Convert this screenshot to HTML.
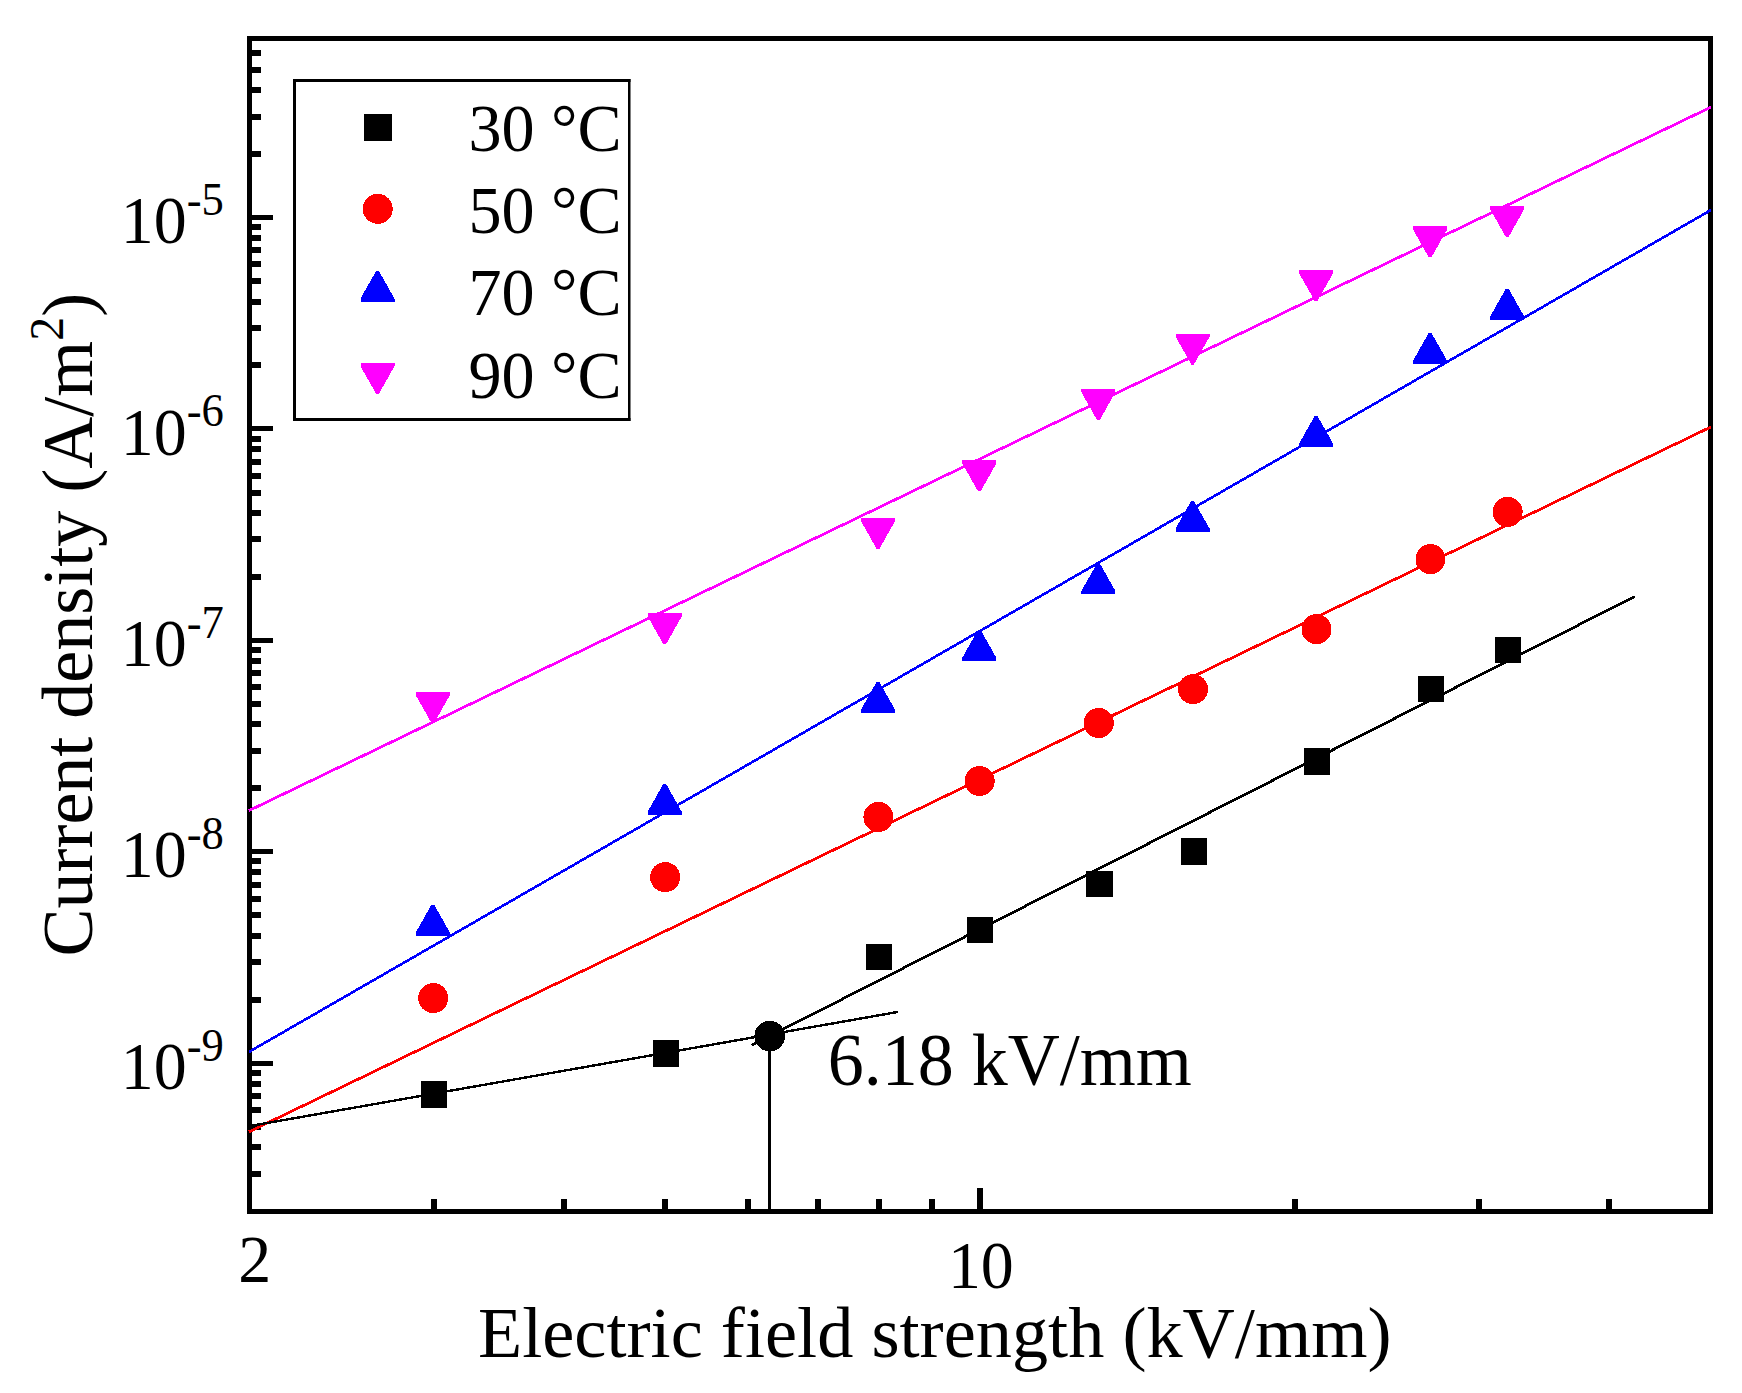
<!DOCTYPE html>
<html lang="en"><head><meta charset="utf-8"><title>Current density vs electric field strength</title>
<style>html,body{margin:0;padding:0;background:#fff}body{width:1742px;height:1393px;overflow:hidden}svg{display:block}text{font-family:"Liberation Serif",serif;fill:#000}</style></head><body>
<svg width="1742" height="1393" viewBox="0 0 1742 1393">
<rect width="1742" height="1393" fill="#fff"/>
<g fill="#000" shape-rendering="crispEdges">
<rect x="247" y="36" width="1466" height="5"/>
<rect x="247" y="1209" width="1466" height="5"/>
<rect x="247" y="36" width="5" height="1178"/>
<rect x="1708" y="36" width="5" height="1178"/>
<rect x="250" y="1171" width="11" height="6"/>
<rect x="250" y="1144" width="11" height="6"/>
<rect x="250" y="1124" width="11" height="6"/>
<rect x="250" y="1107" width="11" height="6"/>
<rect x="250" y="1093" width="11" height="6"/>
<rect x="250" y="1081" width="11" height="6"/>
<rect x="250" y="1070" width="11" height="6"/>
<rect x="250" y="1061" width="23" height="5"/>
<rect x="250" y="997" width="11" height="6"/>
<rect x="250" y="959" width="11" height="6"/>
<rect x="250" y="933" width="11" height="6"/>
<rect x="250" y="912" width="11" height="6"/>
<rect x="250" y="896" width="11" height="6"/>
<rect x="250" y="882" width="11" height="6"/>
<rect x="250" y="869" width="11" height="6"/>
<rect x="250" y="858" width="11" height="6"/>
<rect x="250" y="849" width="23" height="5"/>
<rect x="250" y="785" width="11" height="6"/>
<rect x="250" y="748" width="11" height="6"/>
<rect x="250" y="721" width="11" height="6"/>
<rect x="250" y="701" width="11" height="6"/>
<rect x="250" y="684" width="11" height="6"/>
<rect x="250" y="670" width="11" height="6"/>
<rect x="250" y="658" width="11" height="6"/>
<rect x="250" y="647" width="11" height="6"/>
<rect x="250" y="638" width="23" height="5"/>
<rect x="250" y="574" width="11" height="6"/>
<rect x="250" y="536" width="11" height="6"/>
<rect x="250" y="510" width="11" height="6"/>
<rect x="250" y="490" width="11" height="6"/>
<rect x="250" y="473" width="11" height="6"/>
<rect x="250" y="459" width="11" height="6"/>
<rect x="250" y="446" width="11" height="6"/>
<rect x="250" y="436" width="11" height="6"/>
<rect x="250" y="426" width="23" height="5"/>
<rect x="250" y="362" width="11" height="6"/>
<rect x="250" y="325" width="11" height="6"/>
<rect x="250" y="299" width="11" height="6"/>
<rect x="250" y="278" width="11" height="6"/>
<rect x="250" y="261" width="11" height="6"/>
<rect x="250" y="247" width="11" height="6"/>
<rect x="250" y="235" width="11" height="6"/>
<rect x="250" y="224" width="11" height="6"/>
<rect x="250" y="215" width="23" height="5"/>
<rect x="250" y="151" width="11" height="6"/>
<rect x="250" y="114" width="11" height="6"/>
<rect x="250" y="87" width="11" height="6"/>
<rect x="250" y="67" width="11" height="6"/>
<rect x="250" y="50" width="11" height="6"/>
<rect x="431" y="1199" width="6" height="12"/>
<rect x="561" y="1199" width="6" height="12"/>
<rect x="662" y="1199" width="6" height="12"/>
<rect x="745" y="1199" width="6" height="12"/>
<rect x="815" y="1199" width="6" height="12"/>
<rect x="876" y="1199" width="6" height="12"/>
<rect x="929" y="1199" width="6" height="12"/>
<rect x="977" y="1188" width="6" height="23"/>
<rect x="1292" y="1199" width="6" height="12"/>
<rect x="1476" y="1199" width="6" height="12"/>
<rect x="1606" y="1199" width="6" height="12"/>
</g>
<g fill="none" shape-rendering="crispEdges">
<line x1="249" y1="810.6" x2="1711" y2="107.1" stroke="#ff00ff" stroke-width="2.75"/>
<line x1="249" y1="1051.9" x2="1711" y2="210.0" stroke="#0000ff" stroke-width="2.6"/>
<line x1="249" y1="1131.8" x2="1711" y2="426.9" stroke="#ff0000" stroke-width="2.75"/>
<line x1="249.5" y1="1126.1" x2="898.2" y2="1011.9" stroke="#000" stroke-width="2.4"/>
<line x1="751.6" y1="1045.2" x2="1634.8" y2="596.4" stroke="#000" stroke-width="2.7"/>
<rect x="768" y="1036" width="3" height="175" fill="#000"/>
</g>
<g shape-rendering="crispEdges">
<polygon points="415.8,692.1 449.8,692.1 449.8,695.3 434.1,723.1 431.5,723.1 415.8,695.3" fill="#ff00ff"/>
<polygon points="647.7,613.3 681.7,613.3 681.7,616.5 666.0,644.3 663.4,644.3 647.7,616.5" fill="#ff00ff"/>
<polygon points="861.0,518.0 895.0,518.0 895.0,521.2 879.3,549.0 876.7,549.0 861.0,521.2" fill="#ff00ff"/>
<polygon points="962.3,460.3 996.3,460.3 996.3,463.5 980.6,491.3 978.0,491.3 962.3,463.5" fill="#ff00ff"/>
<polygon points="1081.4,389.1 1115.4,389.1 1115.4,392.3 1099.7,420.1 1097.1,420.1 1081.4,392.3" fill="#ff00ff"/>
<polygon points="1175.6,333.5 1209.6,333.5 1209.6,336.7 1193.9,364.5 1191.3,364.5 1175.6,336.7" fill="#ff00ff"/>
<polygon points="1299.1,270.1 1333.1,270.1 1333.1,273.3 1317.4,301.1 1314.8,301.1 1299.1,273.3" fill="#ff00ff"/>
<polygon points="1413.1,226.4 1447.1,226.4 1447.1,229.6 1431.4,257.4 1428.8,257.4 1413.1,229.6" fill="#ff00ff"/>
<polygon points="1490.2,206.1 1524.2,206.1 1524.2,209.3 1508.5,237.1 1505.9,237.1 1490.2,209.3" fill="#ff00ff"/>
<polygon points="415.8,935.6 449.8,935.6 449.8,932.4 434.1,904.6 431.5,904.6 415.8,932.4" fill="#0000ff"/>
<polygon points="647.7,814.8 681.7,814.8 681.7,811.6 666.0,783.8 663.4,783.8 647.7,811.6" fill="#0000ff"/>
<polygon points="861.0,712.8 895.0,712.8 895.0,709.6 879.3,681.8 876.7,681.8 861.0,709.6" fill="#0000ff"/>
<polygon points="962.3,660.9 996.3,660.9 996.3,657.7 980.6,629.9 978.0,629.9 962.3,657.7" fill="#0000ff"/>
<polygon points="1081.4,594.2 1115.4,594.2 1115.4,591.0 1099.7,563.2 1097.1,563.2 1081.4,591.0" fill="#0000ff"/>
<polygon points="1175.6,531.8 1209.6,531.8 1209.6,528.6 1193.9,500.8 1191.3,500.8 1175.6,528.6" fill="#0000ff"/>
<polygon points="1299.1,446.8 1333.1,446.8 1333.1,443.6 1317.4,415.8 1314.8,415.8 1299.1,443.6" fill="#0000ff"/>
<polygon points="1413.1,363.8 1447.1,363.8 1447.1,360.6 1431.4,332.8 1428.8,332.8 1413.1,360.6" fill="#0000ff"/>
<polygon points="1490.2,319.6 1524.2,319.6 1524.2,316.4 1508.5,288.6 1505.9,288.6 1490.2,316.4" fill="#0000ff"/>
<circle cx="433.2" cy="998.1" r="15.0" fill="#ff0000"/>
<circle cx="665.1" cy="877.1" r="15.0" fill="#ff0000"/>
<circle cx="878.4" cy="816.9" r="15.0" fill="#ff0000"/>
<circle cx="979.7" cy="781.0" r="15.0" fill="#ff0000"/>
<circle cx="1098.8" cy="723.0" r="15.0" fill="#ff0000"/>
<circle cx="1193.0" cy="689.1" r="15.0" fill="#ff0000"/>
<circle cx="1316.5" cy="629.2" r="15.0" fill="#ff0000"/>
<circle cx="1430.5" cy="559.1" r="15.0" fill="#ff0000"/>
<circle cx="1507.6" cy="511.9" r="15.0" fill="#ff0000"/>
<rect x="420.7" y="1081.4" width="26.3" height="26.3" fill="#000"/>
<rect x="652.5" y="1040.3" width="26.3" height="26.3" fill="#000"/>
<rect x="865.9" y="943.9" width="26.3" height="26.3" fill="#000"/>
<rect x="967.1" y="917.1" width="26.3" height="26.3" fill="#000"/>
<rect x="1086.2" y="870.9" width="26.3" height="26.3" fill="#000"/>
<rect x="1180.5" y="838.4" width="26.3" height="26.3" fill="#000"/>
<rect x="1303.9" y="748.4" width="26.3" height="26.3" fill="#000"/>
<rect x="1418.0" y="676.1" width="26.3" height="26.3" fill="#000"/>
<rect x="1495.1" y="636.9" width="26.3" height="26.3" fill="#000"/>
<circle cx="769.7" cy="1036.1" r="15.3" fill="#000"/>
</g>
<g>
<rect x="293" y="79" width="337.5" height="342" fill="#fff"/>
<g fill="#000"><rect x="293" y="79" width="3" height="342"/><rect x="293" y="79" width="337.5" height="3"/><rect x="628" y="79" width="2.5" height="342"/><rect x="293" y="418" width="337.5" height="3"/></g>
<g shape-rendering="crispEdges">
<rect x="364" y="114" width="28" height="27" fill="#000"/>
<circle cx="377.7" cy="208.8" r="15.0" fill="#ff0000"/>
<polygon points="360.5,301.8 394.5,301.8 394.5,298.6 378.8,270.8 376.2,270.8 360.5,298.6" fill="#0000ff"/>
<polygon points="360.5,363.0 394.5,363.0 394.5,366.2 378.8,394.0 376.2,394.0 360.5,366.2" fill="#ff00ff"/>
</g></g>
<text transform="translate(468.4,150.6) scale(0.966,1)" font-size="68.5">30 °C</text>
<text transform="translate(468.4,232.7) scale(0.966,1)" font-size="68.5">50 °C</text>
<text transform="translate(468.4,314.9) scale(0.966,1)" font-size="68.5">70 °C</text>
<text transform="translate(468.4,397.5) scale(0.966,1)" font-size="68.5">90 °C</text>
<text transform="translate(120.7,1088.9) scale(0.970,1)" font-size="68.0">10<tspan font-size="46" dy="-28.4">-9</tspan></text>
<text transform="translate(120.7,877.4) scale(0.970,1)" font-size="68.0">10<tspan font-size="46" dy="-28.4">-8</tspan></text>
<text transform="translate(120.7,666.0) scale(0.970,1)" font-size="68.0">10<tspan font-size="46" dy="-28.4">-7</tspan></text>
<text transform="translate(120.7,454.6) scale(0.970,1)" font-size="68.0">10<tspan font-size="46" dy="-28.4">-6</tspan></text>
<text transform="translate(120.7,243.1) scale(0.970,1)" font-size="68.0">10<tspan font-size="46" dy="-28.4">-5</tspan></text>
<text transform="translate(238.3,1281.8) scale(0.970,1)" font-size="68.0">2</text>
<text transform="translate(947.9,1288.0) scale(0.970,1)" font-size="68.0">10</text>
<text transform="translate(827.8,1085.2) scale(0.980,1)" font-size="73.5">6.18 kV/mm</text>
<text transform="translate(478.0,1357.0) scale(1.000,1)" font-size="72.3">Electric field strength (kV/mm)</text>
<text transform="translate(92,956.6) rotate(-90)" font-size="72">Current density (A/m<tspan font-size="48" dy="-29">2</tspan><tspan dy="29">)</tspan></text>
</svg></body></html>
